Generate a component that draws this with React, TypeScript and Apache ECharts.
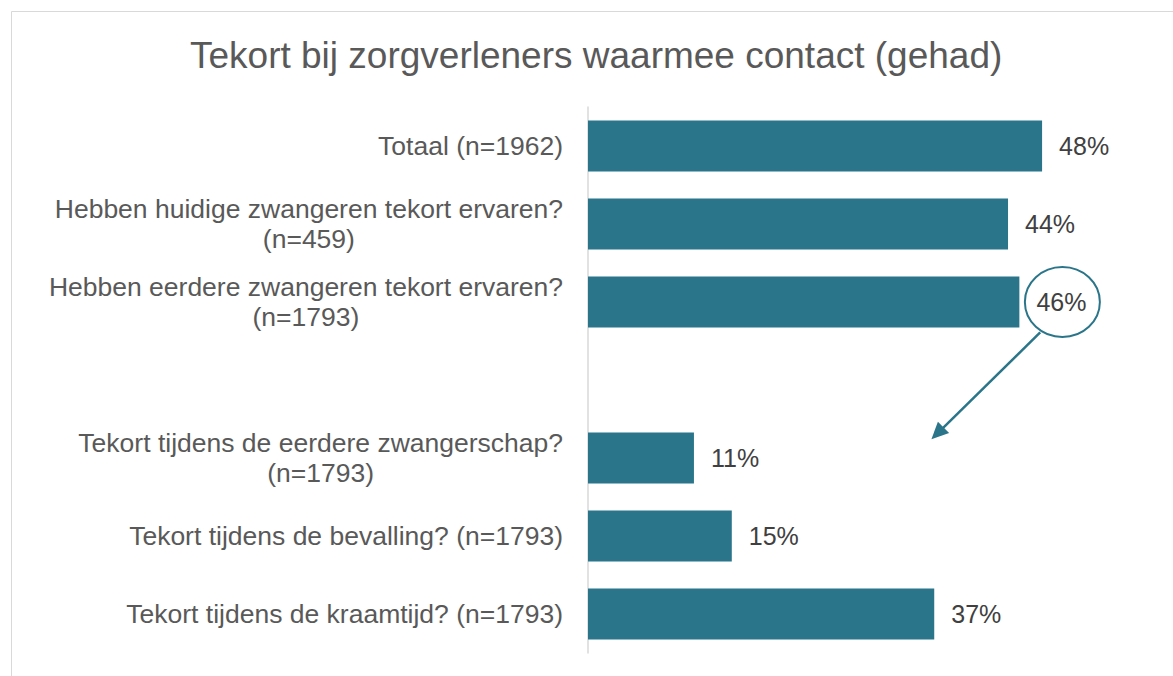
import React, { useEffect, useRef } from 'react';
import * as echarts from 'echarts';

const TITLE = 'Tekort bij zorgverleners waarmee contact (gehad)';
const CATEGORIES = [
  'Totaal (n=1962)',
  'Hebben huidige zwangeren tekort ervaren?\n(n=459)',
  'Hebben eerdere zwangeren tekort ervaren?\n(n=1793)',
  '',
  'Tekort tijdens de eerdere zwangerschap?\n(n=1793)',
  'Tekort tijdens de bevalling? (n=1793)',
  'Tekort tijdens de kraamtijd? (n=1793)',
];
const VALUES: (number | null)[] = [48, 44.4, 45.6, null, 11.2, 15.2, 36.6];
const X_MAX = 60;
const HIGHLIGHT_INDEX = 2;
// arrow anchors in data space: [value, category position]
const ARROW_FROM = [47.8, 2.39];
const ARROW_TO = [36.3, 3.76];

const BAR_COLOR = '#2A7589';
const TEXT_COLOR = '#595959';
const VALUE_COLOR = '#404040';
const FONT = '"Liberation Sans", Arial, sans-serif';

export default function App() {
  const ref = useRef<HTMLDivElement>(null);

  useEffect(() => {
    if (!ref.current) return;
    const chart = echarts.init(ref.current, null, { renderer: 'svg' });
    const option: any = {
      animation: false,
      backgroundColor: '#ffffff',
      title: {
        text: TITLE,
        left: 190,
        top: 37,
        padding: 0,
        textStyle: { fontSize: 37, color: TEXT_COLOR, fontWeight: 'normal', fontFamily: FONT },
      },
      grid: { left: 588, right: 17.4, top: 107, bottom: 23, containLabel: false },
      xAxis: { type: 'value', min: 0, max: X_MAX, show: false, splitLine: { show: false } },
      yAxis: {
        type: 'category',
        inverse: true,
        data: CATEGORIES,
        axisTick: { show: false },
        axisLine: { show: true, lineStyle: { color: '#d9d9d9', width: 1.5 } },
        axisLabel: {
          margin: 25,
          fontSize: 26.5,
          color: TEXT_COLOR,
          fontFamily: FONT,
          lineHeight: 30,
          formatter: (v: string) =>
            v.includes('\n') ? v.split('\n').map((l) => `{c|${l}}`).join('\n') : v,
          rich: {
            c: { align: 'center', fontSize: 26.5, color: TEXT_COLOR, fontFamily: FONT, lineHeight: 30 },
          },
        },
      },
      series: [
        {
          type: 'bar',
          data: VALUES,
          barWidth: 51,
          itemStyle: { color: BAR_COLOR },
          label: {
            show: true,
            position: 'right',
            distance: 17,
            fontSize: 25,
            color: VALUE_COLOR,
            fontFamily: FONT,
            formatter: (p: any) => `${Math.round(p.value)}%`,
          },
        },
      ],
      graphic: [
        {
          id: 'frame',
          type: 'rect',
          silent: true,
          z: -1,
          shape: { x: 11.5, y: 11.5, width: 1200, height: 700 },
          style: { fill: 'none', stroke: '#d9d9d9', lineWidth: 1 },
        },
      ],
    };
    chart.setOption(option);

    const toPx = (v: number, c: number) => {
      const x = chart.convertToPixel({ xAxisIndex: 0 } as any, v) as unknown as number;
      const c0 = Math.floor(c);
      const y0 = chart.convertToPixel({ yAxisIndex: 0 } as any, c0) as unknown as number;
      const y1 = chart.convertToPixel({ yAxisIndex: 0 } as any, c0 + 1) as unknown as number;
      return [x, y0 + (y1 - y0) * (c - c0)];
    };

    const hv = VALUES[HIGHLIGHT_INDEX] as number;
    const [bx, by] = toPx(hv, HIGHLIGHT_INDEX);
    const cx = bx + 17 + 26;
    const cy = by;
    const [sx, sy] = toPx(ARROW_FROM[0], ARROW_FROM[1]);
    const [ex, ey] = toPx(ARROW_TO[0], ARROW_TO[1]);
    const dx = ex - sx;
    const dy = ey - sy;
    const len = Math.sqrt(dx * dx + dy * dy);
    const ux = dx / len;
    const uy = dy / len;
    const headLen = 17;
    const headHalf = 8;
    const baseX = ex - ux * headLen;
    const baseY = ey - uy * headLen;

    chart.setOption({
      graphic: [
        {
          id: 'frame',
          type: 'rect',
          silent: true,
          z: -1,
          shape: { x: 11.5, y: 11.5, width: 1200, height: 700 },
          style: { fill: 'none', stroke: '#d9d9d9', lineWidth: 1 },
        },
        {
          id: 'ellipse',
          type: 'ellipse',
          silent: true,
          shape: { cx, cy, rx: 37.5, ry: 35 },
          style: { fill: 'none', stroke: BAR_COLOR, lineWidth: 2 },
        },
        {
          id: 'arrowLine',
          type: 'line',
          silent: true,
          shape: { x1: sx, y1: sy, x2: baseX + ux * 2, y2: baseY + uy * 2 },
          style: { stroke: BAR_COLOR, lineWidth: 2.5 },
        },
        {
          id: 'arrowHead',
          type: 'polygon',
          silent: true,
          shape: {
            points: [
              [ex, ey],
              [baseX - uy * headHalf, baseY + ux * headHalf],
              [baseX + uy * headHalf, baseY - ux * headHalf],
            ],
          },
          style: { fill: BAR_COLOR },
        },
      ],
    });

    return () => chart.dispose();
  }, []);

  return (
    <div
      ref={ref}
      style={{ position: 'fixed', left: 0, top: 0, width: 1173, height: 676 }}
    />
  );
}
